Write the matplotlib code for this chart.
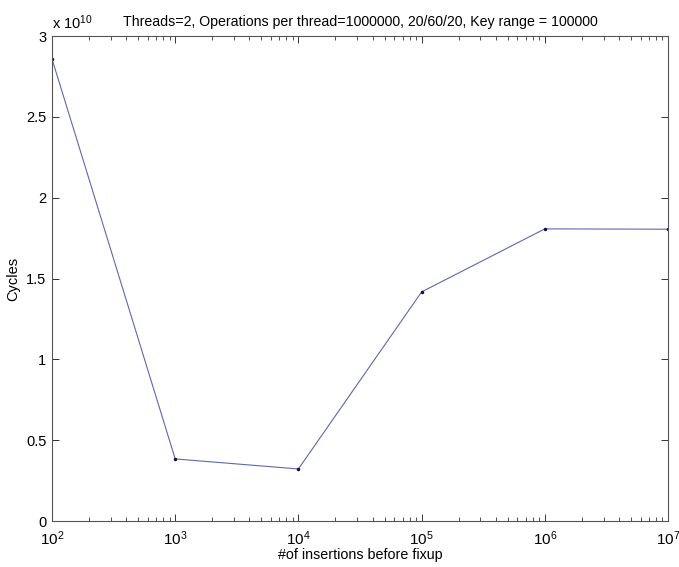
import numpy as np
import matplotlib
matplotlib.use('Agg')
import matplotlib.pyplot as plt
from matplotlib.ticker import FuncFormatter, LogLocator, NullFormatter

plt.rcParams['font.family'] = ['Liberation Sans', 'DejaVu Sans']
plt.rcParams['mathtext.fontset'] = 'custom'
plt.rcParams['mathtext.rm'] = 'Liberation Sans'
plt.rcParams['mathtext.it'] = 'Liberation Sans'

# data
insertions = [1e2, 1e3, 1e4, 1e5, 1e6, 1e7]
cycles = [2.858e10, 0.384e10, 0.322e10, 1.417e10, 1.807e10, 1.805e10]
y_ticks = [0, 0.5e10, 1e10, 1.5e10, 2e10, 2.5e10, 3e10]

title = 'Threads=2, Operations per thread=1000000, 20/60/20, Key range = 100000'

fig = plt.figure(figsize=(6.79, 5.67), dpi=100)
ax = fig.add_axes([0.0766, 0.0811, 0.9072, 0.8554])

ax.plot(insertions, cycles, color='#6464b0', linewidth=0.8, marker='.',
        markersize=3, markerfacecolor='#101040', markeredgecolor='#101040')

ax.set_xscale('log')
ax.set_xlim(1e2, 1e7)
ax.set_ylim(0, 3e10)
ax.set_yticks(y_ticks)
ax.yaxis.set_major_formatter(FuncFormatter(lambda v, p: '%g' % (v / 1e10)))
ax.xaxis.set_major_locator(LogLocator(base=10, numticks=10))
ax.xaxis.set_minor_locator(LogLocator(base=10, subs=np.arange(2, 10), numticks=100))
ax.xaxis.set_minor_formatter(NullFormatter())

ax.tick_params(which='both', direction='in', top=True, right=True,
               color='#333333')
ax.tick_params(which='major', length=5, width=0.7, pad=4)
ax.tick_params(which='minor', length=3, width=0.6)
ax.tick_params(axis='y', labelsize=10.5)
ax.tick_params(axis='x', labelsize=11, pad=6)
for s in ax.spines.values():
    s.set_color('#555555')
    s.set_linewidth(0.8)

ax.text(0.0, 1.008, r'x 10$^{10}$', transform=ax.transAxes, fontsize=10.5,
        ha='left', va='bottom')
ax.set_title(title, fontsize=10.2, pad=7)
ax.set_xlabel('#of insertions before fixup', fontsize=10.3, labelpad=0)
ax.set_ylabel('Cycles', fontsize=10.5, labelpad=4)

fig.savefig('out.png', dpi=100)
